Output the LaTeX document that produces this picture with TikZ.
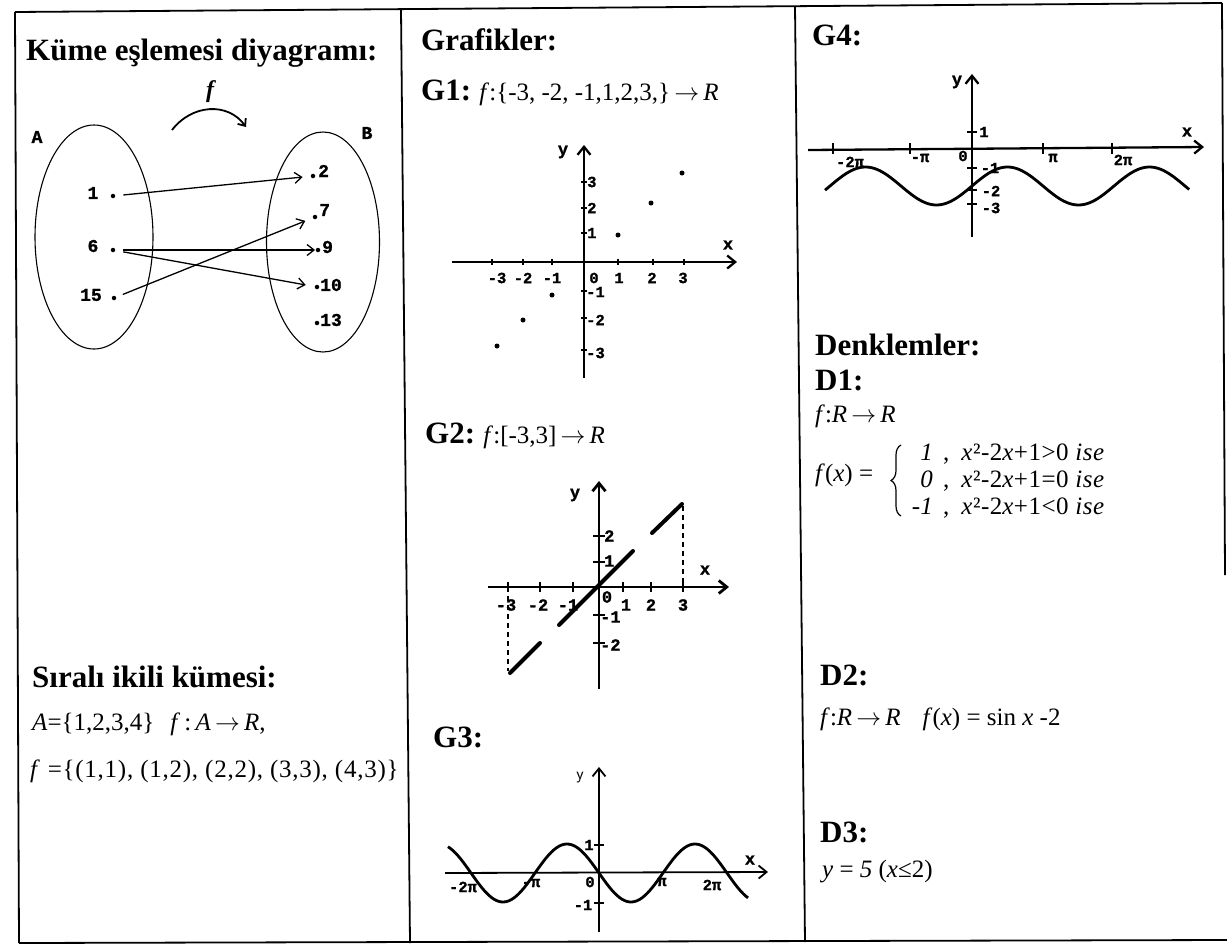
\documentclass[tikz,border=0pt]{standalone}
\usepackage{fontspec}
\setmainfont{Liberation Serif}
\newfontfamily\monob{Liberation Mono}[BoldFeatures={FakeBold=1.2}]
\usetikzlibrary{arrows.meta,shapes.geometric,decorations.pathreplacing}
\newcommand{\hdtxt}[1]{{\fontsize{31}{36}\selectfont\bfseries #1}}
\newcommand{\arr}{\,$\rightarrow$\,}
\begin{document}
\begin{tikzpicture}[x=1pt,y=-1pt,
  frame/.style={line width=1.8pt},
  head/.style={anchor=base west, inner sep=0pt, font=\fontsize{31}{36}\selectfont\bfseries},
  txt/.style={anchor=base west, inner sep=0pt, font=\fontsize{25}{30}\selectfont},
  lab/.style={inner sep=0pt, font=\fontsize{15.5}{15.5}\selectfont\monob\bfseries},
  labb/.style={inner sep=0pt, font=\fontsize{17}{17}\selectfont\monob\bfseries},
  labm/.style={inner sep=0pt, font=\fontsize{18}{18}\selectfont\monob\bfseries},
  dotn/.style={circle, fill, inner sep=0pt, minimum size=4.5pt},
  pdot/.style={circle, fill, inner sep=0pt, minimum size=5pt},
  setell/.style={draw, ellipse, line width=1.1pt, inner sep=0pt},
  maparrow/.style={line width=1.3pt, -{Straight Barb[length=7pt,width=11pt]}},
  axis/.style={line width=2.3pt, -{Straight Barb[length=8pt,width=13pt]}},
  tickm/.style={line width=1.6pt},
  curve/.style={line width=2.8pt},
  seg/.style={line width=4pt, line cap=round},
  dashln/.style={line width=1.3pt, dashed, dash pattern=on 5pt off 4pt},
]
\useasboundingbox (0,0) rectangle (1227,946);

% ---------- table frame ----------
\coordinate (tl) at (15,12);
\coordinate (tr) at (1222,3);
\coordinate (bl) at (19,943);
\coordinate (br) at (1227,940);
\coordinate (c1t) at (401,9);
\coordinate (c1b) at (410,943);
\coordinate (c2t) at (795,6);
\coordinate (c2b) at (805,942);
\coordinate (rb) at (1225,575);
\draw[frame] (tl) -- (tr);
\draw[frame] (bl) -- (br);
\draw[frame] (tl) -- (bl);
\draw[frame] (c1t) -- (c1b);
\draw[frame] (c2t) -- (c2b);
\draw[frame] (tr) -- (rb);

% ---------- column 1 ----------
\node[head] (h1) at (26,60) {Küme eşlemesi diyagramı:};
\node[labm] (lA) at (37,137) {A};
\node[labm] (lB) at (367,133) {B};
\node[setell, minimum width=118pt, minimum height=224pt] (setA) at (94,237) {};
\node[setell, minimum width=113pt, minimum height=220pt] (setB) at (323,242) {};

\node[inner sep=0pt, font=\fontsize{24}{24}\selectfont\bfseries\itshape] (fl) at (210,92) {f};
\coordinate (fs) at (172,130);
\coordinate (fe) at (246,127);
\draw[line width=1.8pt, -{Straight Barb[length=6pt,width=10pt]}] (fs) .. controls (192,104) and (228,102) .. (fe);

\node[dotn] (a1) at (113,196) {};
\node[dotn] (a6) at (113,250) {};
\node[dotn] (a15) at (114,298) {};
\node[labm] (t1) at (93,193) {1};
\node[labm] (t6) at (93,246) {6};
\node[labm] (t15) at (91,295) {15};

\node[dotn] (b2) at (313,176) {};
\node[dotn] (b7) at (315,217) {};
\node[dotn] (b9) at (318,250) {};
\node[dotn] (b10) at (317,287) {};
\node[dotn] (b13) at (317,323) {};
\node[labm, anchor=west] (t2) at (318,171) {2};
\node[labm, anchor=west] (t7) at (319,210) {7};
\node[labm, anchor=west] (t9) at (322,247) {9};
\node[labm, anchor=west] (t10) at (320,285) {10};
\node[labm, anchor=west] (t13) at (320,320) {13};

\draw[maparrow, shorten <=8pt, shorten >=8pt] (a1) -- (b2);
\draw[maparrow, shorten <=7pt, shorten >=8pt] (a15) -- (b7);
\draw[maparrow, shorten <=8pt, shorten >=0.5pt] (a6) -- (b9);
\draw[maparrow, shorten <=8pt, shorten >=9pt] (a6) -- (b10);

\node[head] (h2) at (32,687) {Sıralı ikili kümesi:};
\node[txt] (s1) at (32,730) {\textit{A}=\{1,2,3,4\}\hspace{16pt}\textit{f}\,:\,\textit{A}\arr\textit{R},};
\node[txt] (s2) at (30,777) {\addfontfeatures{LetterSpace=3}\textit{f} =\{(1,1), (1,2), (2,2), (3,3), (4,3)\}};

% ---------- column 2 ----------
\node[head] (h3) at (421,50) {Grafikler:};
\node[txt] (g1t) at (421,100) {\hdtxt{G1:} \textit{f}:\{-3, -2, -1,1,2,3,\}\arr\textit{R}};

% G1 axes
\coordinate (g1xl) at (452,262);
\coordinate (g1xr) at (737,262);
\coordinate (g1yb) at (584,378);
\coordinate (g1yt) at (584,145);
\draw[axis] (g1xl) -- (g1xr);
\draw[axis] (g1yb) -- (g1yt);
\foreach \px in {492,523,552,618,653,684} \draw[tickm] (\px,259) -- (\px,265);
\foreach \py in {182,208,233,291,318,350} \draw[tickm] (581,\py) -- (587,\py);
\node[labb] (g1y) at (563,152) {y};
\node[labb] (g1x) at (728,245) {x};
\foreach \px/\t in {497/-3,523/-2,552/-1,594/0,619/1,652/2,683/3}
  \node[lab] at (\px,278) {\t};
\foreach \py/\t in {182/3,208/2,233/1}
  \node[lab, anchor=west] at (587,\py) {\t};
\foreach \py/\t in {292/-1,320/-2,353/-3}
  \node[lab, anchor=west] at (586,\py) {\t};
\node[pdot] (p3) at (682,173) {};
\node[pdot] (p2) at (651,203) {};
\node[pdot] (p1) at (618,235) {};
\node[pdot] (pm1) at (552,295) {};
\node[pdot] (pm2) at (523,320) {};
\node[pdot] (pm3) at (497,346) {};

% G2
\node[txt] (g2t) at (425,443) {\hdtxt{G2:} \textit{f}:[-3,3]\arr\textit{R}};
\coordinate (g2xl) at (488,587);
\coordinate (g2xr) at (729,587);
\coordinate (g2yb) at (599,689);
\coordinate (g2yt) at (599,481);
\draw[axis, line width=2.8pt] (g2xl) -- (g2xr);
\draw[axis, line width=2.8pt] (g2yb) -- (g2yt);
\foreach \px in {508,540,573,623,651,683} \draw[tickm, line width=2pt] (\px,582) -- (\px,592);
\foreach \py in {536,562,615,643} \draw[tickm, line width=2pt] (593,\py) -- (605,\py);
\node[labb] (g2y) at (575,495) {y};
\node[labb] (g2x) at (705,570) {x};
\foreach \px/\t in {506/-3,538/-2,568/-1,626/1,651/2,683/3}
  \node[labb] at (\px,605) {\t};
\node[labb] at (607,597) {0};
\foreach \py/\t in {536/2,561/1}
  \node[labb, anchor=west] at (604,\py) {\t};
\foreach \py/\t in {617/-1,645/-2}
  \node[labb, anchor=west] at (600,\py) {\t};
\coordinate (s1a) at (652,533); \coordinate (s1b) at (682,504);
\coordinate (s2a) at (559,625); \coordinate (s2b) at (633,551);
\coordinate (s3a) at (510,673); \coordinate (s3b) at (540,643);
\draw[seg] (s1a) -- (s1b);
\draw[seg] (s2a) -- (s2b);
\draw[seg] (s3a) -- (s3b);
\coordinate (d1t) at (683,506); \coordinate (d1b) at (683,587);
\coordinate (d2t) at (508,587); \coordinate (d2b) at (508,671);
\draw[dashln] (d1t) -- (d1b);
\draw[dashln] (d2t) -- (d2b);

% G3
\node[head] (g3t) at (433,747) {G3:};
\coordinate (g3xl) at (445,873);
\coordinate (g3xr) at (768,872);
\coordinate (g3yb) at (599,932);
\coordinate (g3yt) at (599,767);
\draw[axis, line width=1.8pt] (g3xl) -- (g3xr);
\draw[axis, line width=1.8pt] (g3yb) -- (g3yt);
\foreach \py in {845,903} \draw[tickm] (594,\py) -- (604,\py);
\draw[curve] plot[domain=-2.36:2.33, samples=120, smooth] ({599+64*\x},{873+29*sin(180*\x)});
\node[inner sep=0pt, font=\fontsize{17}{17}\selectfont\sffamily] (g3y) at (580,778) {y};
\node[labb] (g3x) at (750,860) {x};
\node[lab] at (589,845) {1};
\node[lab] at (583,905) {-1};
\node[lab] at (590,882) {0};
\node[lab] at (463,887) {-2π};
\node[lab] at (531,883) {-π};
\node[lab] at (662,882) {π};
\node[lab] at (712,885) {2π};

% ---------- column 3 ----------
\node[head] (g4t) at (812,45) {G4:};
\coordinate (g4xl) at (808,150);
\coordinate (g4xr) at (1204,147);
\coordinate (g4yb) at (972,237);
\coordinate (g4yt) at (972,74);
\draw[axis] (g4xl) -- (g4xr);
\draw[axis] (g4yb) -- (g4yt);
\foreach \px in {833,910,1043,1112} \draw[tickm] (\px,143) -- (\px,154);
\foreach \py in {132,168,190,204} \draw[tickm] (967,\py) -- (977,\py);
\draw[curve] plot[domain=-2.07:3.06, samples=140, smooth] ({972+71*\x},{186-19*sin(180*\x)});
\node[labb] (g4y) at (957,82) {y};
\node[labb] (g4x) at (1187,132) {x};
\node[lab] at (984,132) {1};
\node[lab] at (990,168) {-1};
\node[lab] at (991,191) {-2};
\node[lab] at (991,208) {-3};
\node[lab] at (963,156) {0};
\node[lab] at (850,162) {-2π};
\node[lab] at (920,158) {-π};
\node[lab] at (1053,158) {π};
\node[lab] at (1123,160) {2π};

\node[head] (den) at (815,355) {Denklemler:};
\node[head] (d1) at (815,390) {D1:};
\node[txt] (d1a) at (815,422) {\textit{f}:\textit{R}\arr\textit{R}};
\node[txt] (fx) at (815,481) {\textit{f}(\textit{x}) =};
\coordinate (brb) at (901,516);
\coordinate (brt) at (901,445);
\draw[line width=1.2pt, decorate, decoration={brace, amplitude=10pt}] (brb) -- (brt);
\node[txt, anchor=base east] (r1n) at (933,460) {\textit{1}};
\node[txt, anchor=base east] (r2n) at (933,487) {\textit{0}};
\node[txt, anchor=base east] (r3n) at (933,514) {-\textit{1}};
\node[txt] (r1) at (943,460) {\addfontfeatures{LetterSpace=2},\hspace{12pt}\textit{x}²-2\textit{x}+1>0 \textit{ise}};
\node[txt] (r2) at (943,487) {\addfontfeatures{LetterSpace=2},\hspace{12pt}\textit{x}²-2\textit{x}+1=0 \textit{ise}};
\node[txt] (r3) at (943,514) {\addfontfeatures{LetterSpace=2},\hspace{12pt}\textit{x}²-2\textit{x}+1<0 \textit{ise}};

\node[head] (d2) at (820,685) {D2:};
\node[txt] (d2a) at (820,725) {\textit{f}:\textit{R}\arr\textit{R}\hspace{22pt}\textit{f}(\textit{x}) = sin \textit{x} -2};
\node[head] (d3) at (820,842) {D3:};
\node[txt] (d3a) at (822,877) {\textit{y} = \textit{5} (\textit{x}≤2)};
\end{tikzpicture}
\end{document}
